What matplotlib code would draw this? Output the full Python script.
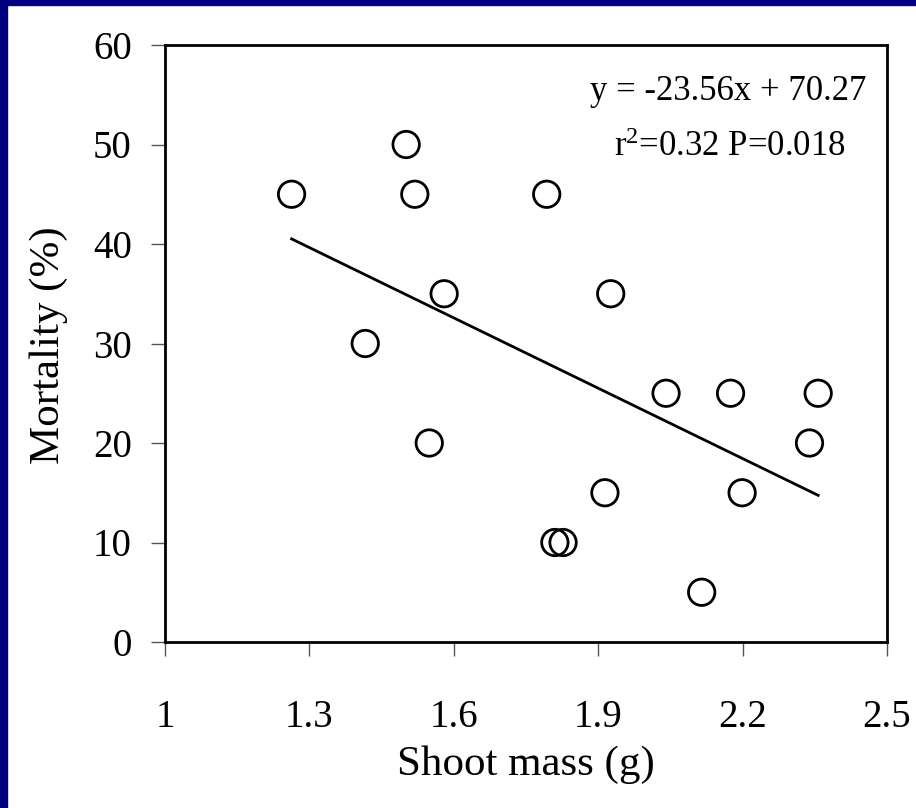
import matplotlib
matplotlib.use("Agg")
import matplotlib.pyplot as plt
from matplotlib.patches import Rectangle
import numpy as np

plt.rcParams['font.family'] = ['Liberation Serif', 'DejaVu Serif']
plt.rcParams['mathtext.fontset'] = 'custom'
plt.rcParams['mathtext.rm'] = 'Liberation Serif'
plt.rcParams['mathtext.it'] = 'Liberation Serif'

# Data
shoot_mass = [1.263, 1.501, 1.519, 1.793, 1.580, 1.416, 1.549, 1.926,
              2.041, 2.175, 2.357, 2.339, 1.914, 2.199, 2.115, 1.810, 1.827]
mortality = [45, 50, 45, 45, 35, 30, 20, 35,
             25, 25, 25, 20, 15, 15, 5, 10, 10]
slope = -23.56
intercept = 70.27
x_ticks = [1, 1.3, 1.6, 1.9, 2.2, 2.5]
x_tick_labels = ["1", "1.3", "1.6", "1.9", "2.2", "2.5"]
y_ticks = [0, 10, 20, 30, 40, 50, 60]
eq_text = "y = -23.56x + 70.27"
stat_text = r"r$^{2}$=0.32 P=0.018"

W, H = 916, 808
fig = plt.figure(figsize=(W / 100, H / 100), dpi=100)
fig.patch.set_facecolor('white')
navy = '#000080'
fig.patches.append(Rectangle((0, 0), 7 / W, 1, transform=fig.transFigure, color=navy, zorder=0))
fig.patches.append(Rectangle((0, 1 - 5 / H), 1, 5 / H, transform=fig.transFigure, color=navy, zorder=0))

AX_L, AX_R, AX_T, AX_B = 165, 887, 45, 642
ax = fig.add_axes([AX_L / W, (H - AX_B) / H, (AX_R - AX_L) / W, (AX_B - AX_T) / H])
ax.set_xlim(1, 2.5)
ax.set_ylim(0, 60)

ax.scatter(shoot_mass, mortality, s=19 ** 2, facecolors='none', edgecolors='black',
           linewidths=2.0, zorder=3, clip_on=False)

xl = np.array([min(shoot_mass), max(shoot_mass)])
ax.plot(xl, slope * xl + intercept, color='black', lw=2.0, zorder=2)

ax.set_xticks(x_ticks)
ax.set_xticklabels(x_tick_labels)
ax.set_yticks(y_ticks)
ax.tick_params(axis='x', direction='out', length=10, width=1, color='#555555',
               labelsize=28, pad=31)
ax.tick_params(axis='y', direction='out', length=10, width=1, color='#555555',
               labelsize=28, pad=14)
for s in ax.spines.values():
    s.set_linewidth(2)
    s.set_color('black')

def ax_x(px):
    return (px - AX_L) / (AX_R - AX_L)

def ax_y(py):
    return (AX_B - py) / (AX_B - AX_T)

ax.set_xlabel("Shoot mass (g)", fontsize=31)
ax.xaxis.set_label_coords(0.5, ax_y(745))
ax.set_ylabel("Mortality (%)", fontsize=31)
ax.yaxis.label.set_verticalalignment('center')
ax.yaxis.set_label_coords(ax_x(49), ax_y(345))

ax.text(ax_x(728), ax_y(91), eq_text, transform=ax.transAxes,
        ha='center', va='center', fontsize=25)
ax.text(ax_x(730), ax_y(148), stat_text, transform=ax.transAxes,
        ha='center', va='center', fontsize=25)

fig.savefig("out.png", dpi=100, facecolor=fig.get_facecolor())
